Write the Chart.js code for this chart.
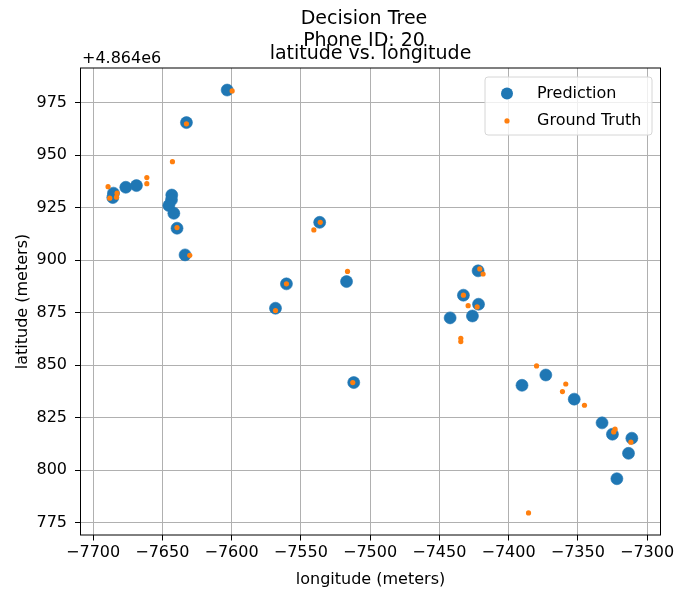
<!DOCTYPE html>
<html>
<head>
<meta charset="utf-8">
<script src="https://cdn.jsdelivr.net/npm/chart.js@4.4.1/dist/chart.umd.min.js"></script>
<style>
  html, body { margin: 0; padding: 0; background: #fff; }
  canvas { display: block; }
</style>
</head>
<body>
<canvas id="myChart" width="690" height="592"></canvas>
<script>
// latitude guardada sem o deslocamento (+4.864e6), como nos ticks
const latOffset = '+4.864e6';

const predLon = [-7603.2, -7632.6, -7676.4, -7668.7, -7685.3, -7685.8, -7643.2, -7643.4, -7645.3, -7641.7,
  -7639.4, -7633.6, -7536.4, -7517.0, -7560.4, -7568.3, -7511.8, -7422.0, -7432.6, -7421.7,
  -7426.1, -7442.2, -7373.1, -7390.3, -7352.6, -7332.5, -7325.0, -7311.0, -7313.4, -7321.8];
const predLat = [981.0, 965.5, 934.7, 935.5, 931.9, 929.8, 931.0, 928.7, 926.0, 922.3,
  915.2, 902.5, 918.0, 889.8, 888.7, 877.1, 841.7, 894.9, 883.3, 879.0,
  873.4, 872.5, 845.3, 840.4, 833.8, 822.5, 817.1, 815.2, 808.0, 795.9];

const truthLon = [-7599.6, -7632.6, -7642.7, -7661.2, -7661.2, -7689.2, -7682.7, -7683.1, -7688.0, -7639.4,
  -7630.2, -7536.0, -7540.6, -7516.3, -7560.4, -7568.3, -7512.5, -7420.8, -7418.4, -7432.6,
  -7429.2, -7422.7, -7434.5, -7434.5, -7379.8, -7358.7, -7361.1, -7345.2, -7323.1, -7324.1,
  -7311.7, -7385.6];
const truthLat = [980.6, 964.9, 946.9, 939.3, 936.4, 935.0, 931.9, 930.0, 929.5, 915.5,
  902.3, 918.0, 914.4, 894.6, 888.7, 876.0, 841.7, 895.8, 893.4, 883.3,
  878.3, 877.7, 862.8, 861.2, 849.6, 841.0, 837.4, 830.9, 819.5, 818.2,
  813.3, 779.6];

const xTicks = [-7700, -7650, -7600, -7550, -7500, -7450, -7400, -7350, -7300];
const yTicks = [775, 800, 825, 850, 875, 900, 925, 950, 975];

const fonte = 'DejaVu Sans';
const toPoints = (xs, ys) => xs.map((x, i) => ({ x: x, y: ys[i] }));
const fmt = v => (v < 0 ? '\u2212' + Math.abs(v) : String(v));

// moldura, títulos e legenda desenhados por cima do gráfico
const extras = {
  id: 'extras',
  afterDraw(chart) {
    const ctx = chart.ctx;
    const a = chart.chartArea;
    ctx.save();
    ctx.strokeStyle = '#000';
    ctx.lineWidth = 1;
    ctx.strokeRect(a.left, a.top, a.right - a.left, a.bottom - a.top);

    ctx.fillStyle = '#000';
    ctx.textBaseline = 'alphabetic';
    ctx.textAlign = 'center';
    ctx.font = '19px ' + fonte;
    ctx.fillText('Decision Tree', 364, 24);
    ctx.fillText('Phone ID: 20', 364, 46);
    ctx.fillText('latitude vs. longitude', (a.left + a.right) / 2, 59);
    ctx.textAlign = 'left';
    ctx.font = '16px ' + fonte;
    ctx.fillText(latOffset, 82, 63);

    // legenda
    const lx = 485, ly = 77, lw = 167, lh = 58;
    ctx.beginPath();
    ctx.roundRect(lx, ly, lw, lh, 3);
    ctx.fillStyle = 'rgba(255,255,255,0.8)';
    ctx.fill();
    ctx.strokeStyle = '#d6d6d6';
    ctx.stroke();
    ctx.textBaseline = 'middle';
    chart.data.datasets.forEach((ds, i) => {
      const y = 93.5 + i * 27.4;
      ctx.beginPath();
      ctx.arc(507, y, ds.pointRadius, 0, Math.PI * 2);
      ctx.fillStyle = ds.backgroundColor;
      ctx.fill();
      ctx.fillStyle = '#000';
      ctx.font = '16px ' + fonte;
      ctx.fillText(ds.label, 537, y);
    });
    ctx.restore();
  }
};

const ctx = document.getElementById('myChart').getContext('2d');

new Chart(ctx, {
  type: 'scatter',
  data: {
    datasets: [{
      label: 'Prediction',
      data: toPoints(predLon, predLat),
      backgroundColor: '#1f77b4',
      borderColor: 'rgba(31,119,180,0.6)',
      borderWidth: 1,
      pointRadius: 6,
      pointHoverRadius: 6,
      order: 2
    }, {
      label: 'Ground Truth',
      data: toPoints(truthLon, truthLat),
      backgroundColor: '#ff7f0e',
      borderWidth: 0,
      pointRadius: 2.6,
      pointHoverRadius: 2.6,
      order: 1
    }]
  },
  options: {
    responsive: false,
    animation: false,
    layout: { padding: { top: 68, right: 29.5, left: 0, bottom: 0 } },
    plugins: {
      legend: { display: false },
      tooltip: { enabled: false }
    },
    scales: {
      x: {
        type: 'linear',
        min: -7709.1,
        max: -7290.3,
        afterBuildTicks: s => { s.ticks = xTicks.map(v => ({ value: v })); },
        afterFit: s => { s.height = 57; },
        grid: { color: '#b0b0b0', lineWidth: 1, tickColor: '#000', tickLength: 5.5 },
        border: { display: false },
        ticks: { color: '#000', font: { family: fonte, size: 16 }, padding: 3, maxRotation: 0, callback: fmt },
        title: { display: true, text: 'longitude (meters)', color: '#000', font: { family: fonte, size: 16 }, padding: { bottom: 2.4 } }
      },
      y: {
        type: 'linear',
        min: 769.1,
        max: 991.5,
        afterBuildTicks: s => { s.ticks = yTicks.map(v => ({ value: v })); },
        afterFit: s => { s.width = 80.5; },
        grid: { color: '#b0b0b0', lineWidth: 1, tickColor: '#000', tickLength: 5.5 },
        border: { display: false },
        ticks: { color: '#000', font: { family: fonte, size: 16 }, padding: 8, callback: fmt },
        title: { display: true, text: 'latitude (meters)', color: '#000', font: { family: fonte, size: 16 }, padding: { top: 13.4 } }
      }
    }
  },
  plugins: [extras]
});
</script>
</body>
</html>
